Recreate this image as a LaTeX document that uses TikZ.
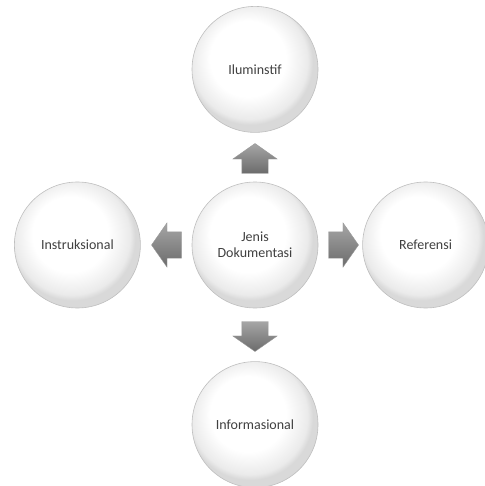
\documentclass[tikz,border=0pt]{standalone}
\usepackage{fontspec}
\setmainfont{Carlito}
\usetikzlibrary{positioning,shapes.arrows}

\pgfdeclareradialshading{bubble}{\pgfpoint{-4bp}{6bp}}{color(0bp)=(white); color(15bp)=(white); color(23bp)=(white!92!black); color(25bp)=(white!85!black); color(50bp)=(white!85!black)}

\begin{document}
\begin{tikzpicture}[
x=1pt, y=-1pt,
bubble/.style={circle, draw=black!25, line width=0.6pt, shading=bubble, minimum size=126pt, inner sep=0pt, align=center, font=\fontsize{14}{16}\selectfont, text=black!75},
blockarrow/.style={single arrow, draw=black!40, line width=0.4pt, top color=black!35, bottom color=black!58, minimum height=30pt, single arrow head extend=9pt, single arrow tip angle=110},
flat/.style={blockarrow, inner xsep=0pt, inner ysep=13pt},
upright/.style={blockarrow, inner xsep=13pt, inner ysep=0pt}
]
\useasboundingbox (0,0) rectangle (484,486);
\node[bubble] (hub) at (255,245) {Jenis\\Dokumentasi};
\node[bubble, above=49pt of hub] (ilum) {Iluminstif};
\node[bubble, left=51pt of hub] (instr) {Instruksional};
\node[bubble, right=44pt of hub] (ref) {Referensi};
\node[bubble, below=53pt of hub] (info) {Informasional};
\node[upright, shape border rotate=90, above=8pt of hub] (toilum) {};
\node[flat, shape border rotate=180, left=10pt of hub] (toinstr) {};
\node[flat, right=10pt of hub] (toref) {};
\node[upright, shape border rotate=270, below=13pt of hub] (toinfo) {};
\end{tikzpicture}
\end{document}
